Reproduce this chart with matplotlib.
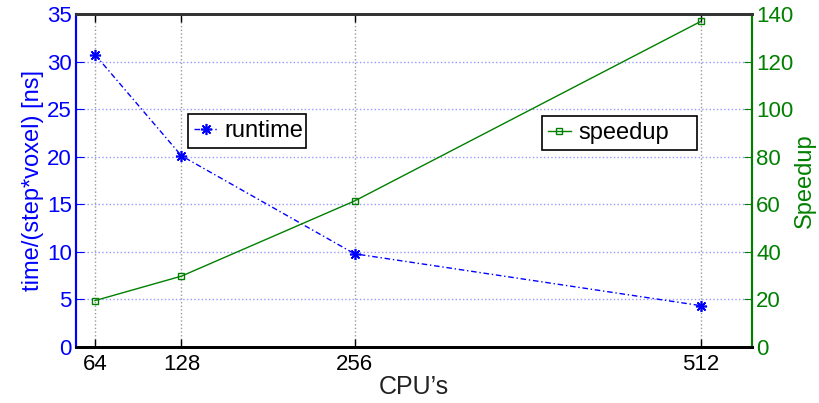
import matplotlib.pyplot as plt

plt.rcParams['font.family'] = ['Liberation Sans', 'DejaVu Sans']

# Data
cpus = [64, 128, 256, 512]
runtime = [30.75, 20.1, 9.8, 4.35]       # time/(step*voxel) [ns]
speedup = [19.5, 29.8, 61.4, 136.9]

blue = '#0000ff'
green = '#008000'

fig = plt.figure(figsize=(8.19, 4.03), dpi=100)
ax1 = fig.add_axes([0.0928, 0.139, 0.8254, 0.826])
ax2 = ax1.twinx()

# runtime on the left axis (asterisk marker like matlab '*')
ax1.plot(cpus, runtime, linestyle=(0, (4, 2, 1, 2)), color=blue,
         marker=(8, 2, 0), markersize=8, markeredgewidth=1.2,
         linewidth=1.0, label='runtime')
ax1.set_xlim(50, 550)
ax1.set_ylim(0, 35)
ax1.set_xticks(cpus)
ax1.set_xticklabels([str(c) for c in cpus])
ax1.set_yticks(range(0, 36, 5))

# grid: vertical gray, horizontal light blue, both dotted
ax1.xaxis.grid(True, linestyle=':', color='#999999', linewidth=1.0)
ax1.yaxis.grid(True, linestyle=':', color='#9999ff', linewidth=1.0)
ax1.set_axisbelow(True)

ax1.tick_params(axis='x', direction='in', top=True, labelsize=16, pad=5,
                length=6, width=1, colors='black')
ax1.tick_params(axis='y', direction='in', labelsize=16, pad=3, length=6,
                colors=blue)
ax1.set_xlabel("CPU\u2019s", fontsize=18, color='#222222', labelpad=0)
ax1.set_ylabel('time/(step*voxel) [ns]', fontsize=17, color=blue, labelpad=2)

# speedup on the right axis
ax2.plot(cpus, speedup, linestyle='-', color=green, marker='s', markersize=5,
         markerfacecolor='none', markeredgewidth=1.0, linewidth=1.0,
         label='speedup')
ax2.set_ylim(0, 140)
ax2.set_yticks(range(0, 141, 20))
ax2.tick_params(axis='y', direction='in', labelsize=16, pad=3, length=6,
                colors=green)
ax2.set_ylabel('Speedup', fontsize=17, color=green, labelpad=0)

# spines
for ax in (ax1, ax2):
    ax.spines['bottom'].set_color('black')
    ax.spines['bottom'].set_linewidth(2.0)
    ax.spines['top'].set_color('#333333')
    ax.spines['top'].set_linewidth(2.0)
    ax.spines['left'].set_color(blue)
    ax.spines['left'].set_linewidth(1.5)
    ax.spines['right'].set_color(green)
    ax.spines['right'].set_linewidth(1.5)

leg_kw = dict(fontsize=17, fancybox=False, framealpha=1, edgecolor='black',
              handlelength=1.0, handletextpad=0.3, borderpad=0.25,
              borderaxespad=0, loc='lower left', mode='expand')
leg1 = ax1.legend(bbox_to_anchor=(0.166, 0.598, 0.174, 0.114), **leg_kw)
leg1.get_frame().set_linewidth(1.2)
leg2 = ax2.legend(bbox_to_anchor=(0.689, 0.592, 0.229, 0.115), **leg_kw)
leg2.get_frame().set_linewidth(1.2)

plt.savefig('out.png', format='png', dpi=100)
plt.close()
